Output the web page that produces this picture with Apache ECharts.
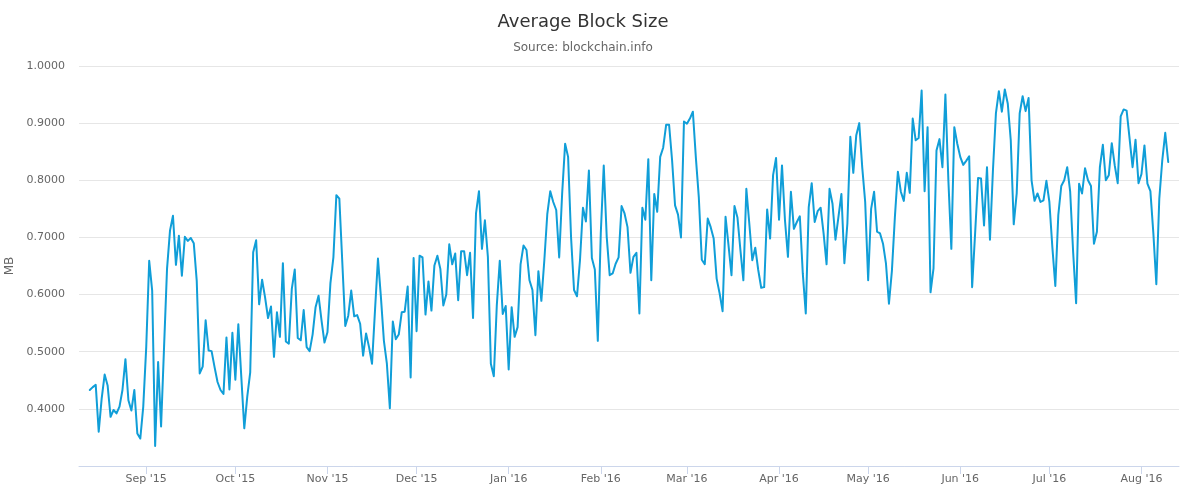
<!DOCTYPE html>
<html>
<head>
<meta charset="utf-8">
<script src="https://cdn.jsdelivr.net/npm/echarts@6/dist/echarts.min.js"></script>
<style>
html,body{margin:0;padding:0;background:#fff;}
#chart{width:1200px;height:500px;}
</style>
</head>
<body>
<div id="chart"></div>
<script>
// Daily average block size (MB), first point 2015-08-13
const startDate = '2015-08-13';
const aug2015 = [0.433,0.438,0.442,0.360,0.418,0.460,0.441,0.386,0.398,0.392,0.404,0.433,0.487,0.415,0.397,0.433,0.357,0.348,0.404];
const sep2015 = [0.508,0.659,0.607,0.335,0.482,0.369,0.508,0.645,0.712,0.738,0.652,0.703,0.633,0.701,0.694,0.699,0.690,0.624,0.462,0.474,0.555,0.502,0.501,0.473,0.447,0.433,0.426,0.525,0.434,0.533];
const oct2015 = [0.451,0.548,0.456,0.366,0.421,0.464,0.674,0.695,0.583,0.626,0.595,0.559,0.579,0.491,0.569,0.526,0.655,0.518,0.514,0.610,0.644,0.524,0.520,0.573,0.508,0.501,0.530,0.578,0.598,0.555,0.516];
const nov2015 = [0.534,0.620,0.665,0.774,0.768,0.656,0.545,0.563,0.607,0.562,0.564,0.549,0.493,0.532,0.508,0.479,0.572,0.663,0.595,0.519,0.479,0.401,0.553,0.522,0.530,0.569,0.570,0.614,0.455,0.664];
const dec2015 = [0.536,0.668,0.665,0.565,0.623,0.572,0.651,0.668,0.645,0.581,0.600,0.688,0.653,0.672,0.590,0.676,0.676,0.634,0.673,0.559,0.742,0.781,0.680,0.730,0.666,0.479,0.457,0.581,0.659,0.566,0.580];
const jan2016 = [0.469,0.578,0.526,0.543,0.653,0.686,0.678,0.625,0.608,0.529,0.641,0.589,0.660,0.741,0.781,0.762,0.748,0.665,0.777,0.864,0.841,0.700,0.608,0.597,0.660,0.752,0.728,0.817,0.664,0.644,0.519];
const feb2016 = [0.707,0.826,0.701,0.634,0.637,0.654,0.665,0.755,0.742,0.718,0.638,0.666,0.673,0.567,0.752,0.731,0.837,0.625,0.776,0.745,0.841,0.857,0.897,0.897,0.835,0.756,0.740,0.700,0.903];
const mar2016 = [0.899,0.908,0.920,0.840,0.770,0.661,0.653,0.733,0.718,0.698,0.628,0.602,0.571,0.736,0.686,0.634,0.755,0.735,0.678,0.625,0.785,0.724,0.660,0.682,0.643,0.612,0.613,0.749,0.698,0.809,0.839];
const apr2016 = [0.731,0.826,0.730,0.666,0.780,0.715,0.727,0.737,0.637,0.567,0.753,0.795,0.727,0.746,0.752,0.707,0.653,0.785,0.759,0.696,0.736,0.776,0.655,0.724,0.876,0.813,0.879,0.900,0.823,0.762];
const may2016 = [0.625,0.750,0.780,0.710,0.707,0.689,0.654,0.584,0.642,0.736,0.815,0.780,0.764,0.813,0.778,0.908,0.870,0.874,0.957,0.781,0.893,0.604,0.646,0.852,0.872,0.823,0.950,0.800,0.680,0.893,0.864];
const jun2016 = [0.841,0.827,0.834,0.842,0.613,0.707,0.804,0.803,0.721,0.823,0.696,0.817,0.917,0.956,0.920,0.959,0.934,0.870,0.723,0.777,0.917,0.947,0.921,0.944,0.800,0.764,0.777,0.762,0.765,0.799];
const jul2016 = [0.762,0.683,0.615,0.739,0.790,0.800,0.823,0.780,0.674,0.585,0.794,0.777,0.821,0.800,0.790,0.689,0.710,0.823,0.862,0.800,0.809,0.865,0.826,0.795,0.912,0.924,0.922,0.873,0.823,0.871,0.795];
const aug2016 = [0.811,0.861,0.794,0.781,0.707,0.618,0.768,0.835,0.883,0.832];

const tickDates = ['2015-09-01','2015-10-01','2015-11-01','2015-12-01','2016-01-01','2016-02-01','2016-03-01','2016-04-01','2016-05-01','2016-06-01','2016-07-01','2016-08-01'];
const tickLabels = ["Sep '15","Oct '15","Nov '15","Dec '15","Jan '16","Feb '16","Mar '16","Apr '16","May '16","Jun '16","Jul '16","Aug '16"];
const yTickLabels = ['0.4000','0.5000','0.6000','0.7000','0.8000','0.9000','1.0000'];

const DAY = 86400000;
const values = [].concat(aug2015, sep2015, oct2015, nov2015, dec2015, jan2016, feb2016, mar2016, apr2016, may2016, jun2016, jul2016, aug2016);
const t0 = Date.parse(startDate + 'T00:00:00Z');
const seriesData = values.map((v, i) => [t0 + i * DAY, v]);
const tN = t0 + (values.length - 1) * DAY;
const span = tN - t0;
const tickTimes = tickDates.map(d => Date.parse(d + 'T00:00:00Z'));

function monthLabel(val) {
  for (let i = 0; i < tickTimes.length; i++) {
    if (Math.abs(tickTimes[i] - val) < DAY / 2) return tickLabels[i];
  }
  return '';
}

const FONT = 'DejaVu Sans';
const chart = echarts.init(document.getElementById('chart'), null, {renderer: 'canvas'});
chart.setOption({
  animation: false,
  backgroundColor: '#ffffff',
  textStyle: {fontFamily: FONT},
  title: {
    text: 'Average Block Size',
    subtext: 'Source: blockchain.info',
    left: 578,
    textAlign: 'center',
    top: 8,
    itemGap: 11,
    textStyle: {fontFamily: FONT, fontSize: 18, fontWeight: 'normal', color: '#333333'},
    subtextStyle: {fontFamily: FONT, fontSize: 12, color: '#666666'}
  },
  grid: {left: 79, right: 21, top: 66, bottom: 34, containLabel: false, outerBoundsMode: 'none'},
  xAxis: {
    type: 'time',
    min: t0 - 0.01 * span,
    max: tN + 0.01 * span,
    minInterval: 28 * DAY,
    maxInterval: 31 * DAY,
    axisLine: {lineStyle: {color: '#ccd6eb', width: 1}},
    axisTick: {show: true, length: 8, lineStyle: {color: '#ccd6eb'}},
    axisLabel: {
      color: '#666666', fontSize: 11, fontFamily: FONT, margin: 8,
      hideOverlap: false,
      formatter: function (val) { return monthLabel(val); }
    },
    splitLine: {show: false}
  },
  yAxis: {
    type: 'value',
    min: 0.3,
    max: 1.0,
    interval: 0.1,
    name: 'MB',
    nameLocation: 'middle',
    nameGap: 50,
    nameRotate: 90,
    nameTextStyle: {color: '#666666', fontSize: 12, fontFamily: FONT},
    axisLine: {show: false},
    axisTick: {show: false},
    axisLabel: {
      color: '#666666', fontSize: 11, fontFamily: FONT, margin: 14,
      showMinLabel: false,
      formatter: function (v) {
        const idx = Math.round((v - 0.4) * 10);
        return (idx >= 0 && idx < yTickLabels.length) ? yTickLabels[idx] : '';
      }
    },
    splitLine: {lineStyle: {color: '#e6e6e6', width: 1}}
  },
  series: [{
    type: 'line',
    name: 'Average Block Size',
    data: seriesData,
    showSymbol: false,
    symbol: 'none',
    lineStyle: {color: '#109ed8', width: 2, join: 'round', cap: 'round'},
    itemStyle: {color: '#109ed8'}
  }]
});
</script>
</body>
</html>
